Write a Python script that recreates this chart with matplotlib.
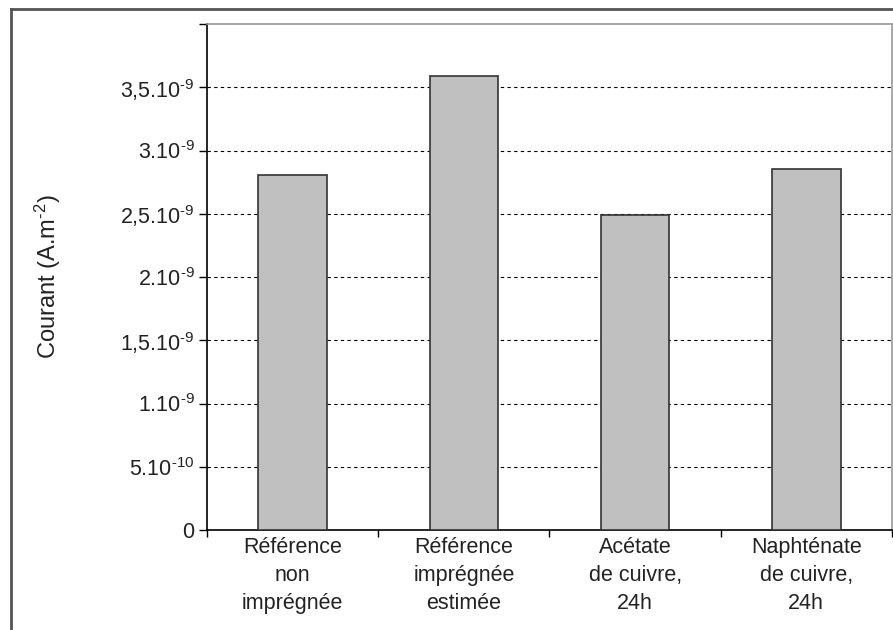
import matplotlib
matplotlib.use("Agg")
import matplotlib.pyplot as plt
from matplotlib.lines import Line2D

plt.rcParams["font.family"] = ["Liberation Sans", "DejaVu Sans"]
plt.rcParams["mathtext.fontset"] = "custom"
plt.rcParams["mathtext.rm"] = "Liberation Sans"
plt.rcParams["mathtext.it"] = "Liberation Sans"
plt.rcParams["mathtext.bf"] = "Liberation Sans"

# data
categories = ["Référence\nnon\nimprégnée", "Référence\nimprégnée\nestimée",
              "Acétate\nde cuivre,\n24h", "Naphténate\nde cuivre,\n24h"]
courant = [2.81e-9, 3.59e-9, 2.49e-9, 2.85e-9]
yticks = [0, 5e-10, 1e-9, 1.5e-9, 2e-9, 2.5e-9, 3e-9, 3.5e-9, 4e-9]
ytick_labels = ["0", "5.10$^{\\text{-10}}$", "1.10$^{\\text{-9}}$",
                "1,5.10$^{\\text{-9}}$", "2.10$^{\\text{-9}}$",
                "2,5.10$^{\\text{-9}}$", "3.10$^{\\text{-9}}$",
                "3,5.10$^{\\text{-9}}$", ""]

fig = plt.figure(figsize=(8.93, 6.30), dpi=100)
ax = fig.add_axes([0.2318, 0.1587, 0.767, 0.8032])

x = range(len(categories))
ax.bar(x, courant, width=0.4, color="#c0c0c0", edgecolor="#333333", linewidth=1.2, zorder=3)

ax.set_xlim(-0.5, 3.5)
ax.set_ylim(0, 4e-9)
ax.set_yticks(yticks)
ax.set_yticklabels(ytick_labels, fontsize=15.5, color="#222222")
ax.set_xticks(list(x))
ax.set_xticklabels(categories, fontsize=15.5, linespacing=1.43, color="#222222")
ax.set_xticks([-0.5, 0.5, 1.5, 2.5, 3.5], minor=True)
ax.tick_params(axis="x", which="major", length=0, pad=5)
ax.tick_params(axis="x", which="minor", length=5, width=1, direction="out")
ax.tick_params(axis="y", length=6, width=1, direction="out", pad=3)

# dashed grid lines, skip zero and top
for v in yticks[1:-1]:
    ax.axhline(v, color="black", linestyle=(0, (3, 3)), linewidth=0.8, zorder=1)

ax.spines["left"].set_color("black")
ax.spines["bottom"].set_color("black")
ax.spines["top"].set_color("#999999")
ax.spines["right"].set_color("#999999")
for s in ax.spines.values():
    s.set_linewidth(1.2)

ax.set_ylabel("Courant (A.m$^{\\text{-2}}$)", fontsize=17, color="#222222")
ax.yaxis.set_label_coords(-0.21, 0.5)

# outer frame (top and left only, rest is cropped)
fig.add_artist(Line2D([0.012, 1.0], [0.986, 0.986], transform=fig.transFigure,
                      color="#555555", linewidth=2))
fig.add_artist(Line2D([0.012, 0.012], [0.0, 0.986], transform=fig.transFigure,
                      color="#555555", linewidth=2))

fig.savefig("out.png", dpi=100)
